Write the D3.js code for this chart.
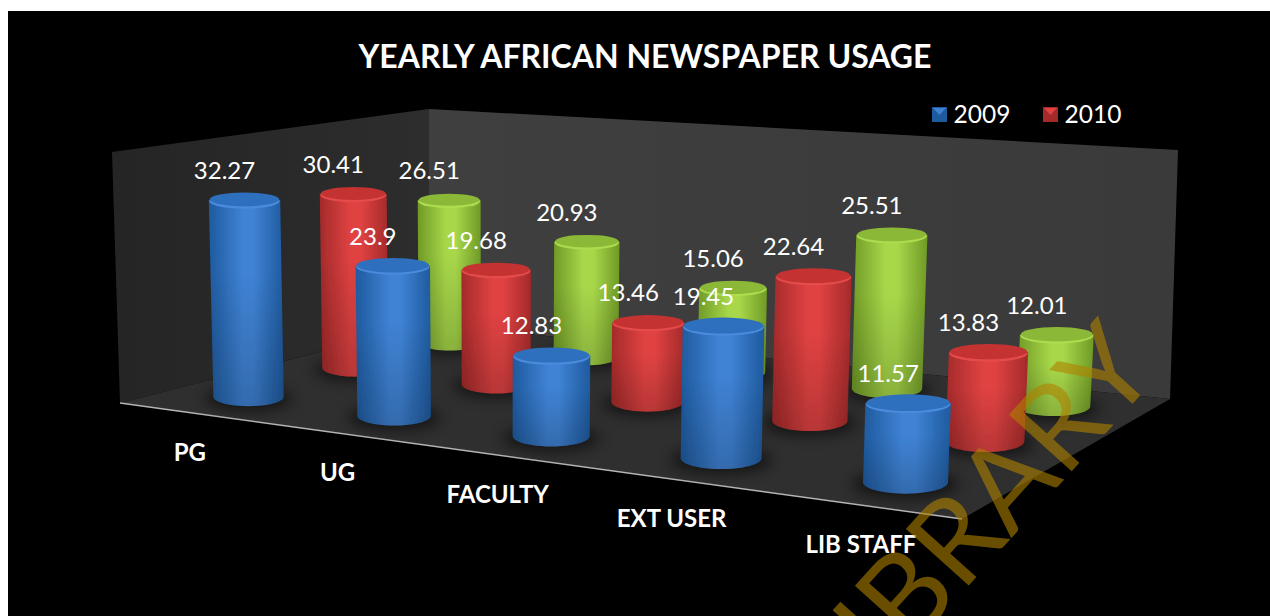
<!DOCTYPE html>
<html>
<head>
<meta charset="utf-8">
<script src="https://cdn.jsdelivr.net/npm/d3@7"></script>
<style>
  html, body { margin: 0; padding: 0; background: #fff; }
  svg { display: block; }
</style>
</head>
<body>
<svg id="chart"></svg>
<script>
const categories = ["PG", "UG", "FACULTY", "EXT USER", "LIB STAFF"];
const seriesKeys = ["2009", "2010", "third"];
const legendLabels = ["2009", "2010"];
const values2009 = [32.27, 23.9, 12.83, 19.45, 11.57];
const values2010 = [30.41, 19.68, 13.46, 22.64, 13.83];
const valuesThird = [26.51, 20.93, 15.06, 25.51, 12.01];
const axisMin = 1, axisMax = 40;

const width = 1270, height = 616;
const seriesValues = [values2009, values2010, valuesThird];

const colors = {
  "2009": {edge: "#1e5a9e", mid: "#3f82d4", top: "#2f70bd", rim: "#4a8bdc"},
  "2010": {edge: "#a42a2a", mid: "#e04242", top: "#c43232", rim: "#e54c4c"},
  "third": {edge: "#6f9a26", mid: "#a8d84a", top: "#8cb838", rim: "#aedc50"}
};

// floor corners and wall tops
const floorA = [120, 403], floorB = [962, 519], floorC = [1170, 399], floorD = [429, 324];
const topA = [112, 152], topC = [1178, 150], topD = [429, 109];

// unit square -> floor homography, plus a column for height
const camera = (() => {
  const [x0, y0] = floorA, [x1, y1] = floorB, [x2, y2] = floorC, [x3, y3] = floorD;
  const sx = x0 - x1 + x2 - x3, sy = y0 - y1 + y2 - y3;
  const dx1 = x1 - x2, dx2 = x3 - x2, dy1 = y1 - y2, dy2 = y3 - y2;
  const det = dx1 * dy2 - dx2 * dy1;
  const g = (sx * dy2 - dx2 * sy) / det;
  const h = (dx1 * sy - sx * dy1) / det;
  return {
    a: x1 - x0 + g * x1, b: x3 - x0 + h * x3, c: x0,
    d: y1 - y0 + g * y1, e: y3 - y0 + h * y3, f: y0,
    g, h,
    hx: -10, hy: -252, hw: -0.02
  };
})();

function project(u, v, t) {
  const c = camera;
  const w = c.g * u + c.h * v + c.hw * t + 1;
  return {
    x: (c.a * u + c.b * v + c.hx * t + c.c) / w,
    y: (c.d * u + c.e * v + c.hy * t + c.f) / w,
    w
  };
}

const u = d3.scaleBand().domain(categories).range([0, 1]);
const v = d3.scaleBand().domain(seriesKeys).range([0, 1]);
const t = d3.scaleLinear().domain([axisMin, axisMax]).range([0, 1]);

// the original is a little less foreshortened along the front edge than the frame says
const catPos = cat => {
  const p = u(cat) + u.bandwidth() / 2;
  return p + 0.04 * p * (1 - p);
};

const radius = 35.5;
const topRatio = 0.21, baseRatio = 0.27;

const bars = [];
seriesKeys.forEach((key, si) => {
  categories.forEach((cat, ci) => {
    const value = seriesValues[si][ci];
    const cu = catPos(cat), cv = v(key) + v.bandwidth() / 2;
    const base = project(cu, cv, 0), top = project(cu, cv, t(value));
    bars.push({
      key, cat, value, base, top,
      rxB: radius / base.w, ryB: radius / base.w * baseRatio,
      rxT: radius / top.w, ryT: radius / top.w * topRatio
    });
  });
});
bars.sort((p, q) => p.base.y - q.base.y);

const svg = d3.select("#chart").attr("width", width).attr("height", height);
const defs = svg.append("defs");

seriesKeys.forEach(key => {
  const col = colors[key];
  const grad = defs.append("linearGradient").attr("id", "body" + key);
  [[0, col.edge], [0.45, col.mid], [0.6, col.mid], [1, col.edge]].forEach(s =>
    grad.append("stop").attr("offset", s[0]).attr("stop-color", s[1]));
});
const fade = defs.append("linearGradient").attr("id", "fade").attr("x1", 0).attr("x2", 0).attr("y1", 0).attr("y2", 1);
fade.append("stop").attr("offset", 0.35).attr("stop-color", "#000").attr("stop-opacity", 0);
fade.append("stop").attr("offset", 1).attr("stop-color", "#000").attr("stop-opacity", 0.18);

const wallGrad = defs.append("linearGradient").attr("id", "backWall");
wallGrad.append("stop").attr("offset", 0).attr("stop-color", "#3f3f3f");
wallGrad.append("stop").attr("offset", 1).attr("stop-color", "#3a3a3a");
const leftGrad = defs.append("linearGradient").attr("id", "leftWall");
leftGrad.append("stop").attr("offset", 0).attr("stop-color", "#252525");
leftGrad.append("stop").attr("offset", 1).attr("stop-color", "#2d2d2d");

defs.append("filter").attr("id", "soft").append("feGaussianBlur").attr("stdDeviation", 0.6);
defs.append("filter").attr("id", "shadow")
  .attr("x", "-50%").attr("y", "-100%").attr("width", "200%").attr("height", "300%")
  .append("feGaussianBlur").attr("stdDeviation", 7);

// page background
svg.append("rect").attr("x", 8).attr("y", 11).attr("width", width - 8).attr("height", height - 11).attr("fill", "#000");

// walls and floor
const poly = pts => pts.map(p => p.join(",")).join(" ");
svg.append("polygon").attr("points", poly([floorA, topA, topD, floorD])).attr("fill", "url(#leftWall)");
svg.append("polygon").attr("points", poly([floorD, topD, topC, floorC])).attr("fill", "url(#backWall)");
svg.append("polygon").attr("points", poly([floorA, floorD, floorC, floorB])).attr("fill", "#2f2f2f");
svg.append("line")
  .attr("x1", floorA[0]).attr("y1", floorA[1]).attr("x2", floorB[0]).attr("y2", floorB[1])
  .attr("stroke", "#b4b4b4").attr("stroke-width", 1.5);

// floor shadows first
svg.append("g").selectAll("ellipse").data(bars).join("ellipse")
  .attr("cx", d => d.base.x).attr("cy", d => d.base.y + 2)
  .attr("rx", d => d.rxB * 1.25).attr("ry", d => d.ryB * 1.25)
  .attr("fill", "#000").attr("opacity", 0.55).attr("filter", "url(#shadow)");

const bodyPath = d => {
  const p = d3.path();
  p.moveTo(d.top.x - d.rxT, d.top.y);
  p.lineTo(d.base.x - d.rxB, d.base.y);
  // front half of base
  const steps = 24;
  d3.range(1, steps + 1).forEach(i => {
    const a = Math.PI - Math.PI * i / steps;
    p.lineTo(d.base.x + d.rxB * Math.cos(a), d.base.y + d.ryB * Math.sin(a));
  });
  p.lineTo(d.top.x + d.rxT, d.top.y);
  p.closePath();
  return p.toString();
};

const cyl = svg.append("g").attr("filter", "url(#soft)")
  .selectAll("g").data(bars).join("g");
cyl.append("path").attr("d", bodyPath).attr("fill", d => `url(#body${d.key})`);
cyl.append("path").attr("d", bodyPath).attr("fill", "url(#fade)");
cyl.append("ellipse")
  .attr("cx", d => d.top.x).attr("cy", d => d.top.y + 1.2)
  .attr("rx", d => d.rxT - 0.5).attr("ry", d => d.ryT)
  .attr("fill", d => colors[d.key].rim);
cyl.append("ellipse")
  .attr("cx", d => d.top.x).attr("cy", d => d.top.y - 0.4)
  .attr("rx", d => d.rxT - 1).attr("ry", d => d.ryT - 0.6)
  .attr("fill", d => colors[d.key].top);

// data labels
svg.append("g").selectAll("text").data(bars).join("text")
  .attr("x", d => d.top.x - 20).attr("y", d => d.top.y - 21)
  .attr("text-anchor", "middle")
  .attr("font-family", "Lato, sans-serif").attr("font-size", 24)
  .attr("fill", "#fff")
  .text(d => d.value);

// category labels under the front edge
svg.append("g").selectAll("text").data(categories).join("text")
  .attr("x", d => project(catPos(d), 0, 0).x)
  .attr("y", d => project(catPos(d), 0, 0).y + 48)
  .attr("text-anchor", "middle")
  .attr("font-family", "Lato, sans-serif").attr("font-size", 24).attr("font-weight", 700)
  .attr("fill", "#fff")
  .text(d => d);

// title
svg.append("text").attr("x", 645).attr("y", 68).attr("text-anchor", "middle")
  .attr("font-family", "Lato, sans-serif").attr("font-size", 32).attr("font-weight", 700)
  .attr("fill", "#fff").text("YEARLY AFRICAN NEWSPAPER USAGE");

// legend
const legendX = d3.scalePoint().domain(legendLabels).range([932, 1043]);
const leg = svg.append("g").selectAll("g").data(legendLabels).join("g")
  .attr("transform", d => `translate(${legendX(d)},107)`);
leg.append("rect").attr("width", 15).attr("height", 15).attr("fill", d => colors[d].edge);
leg.append("polygon").attr("points", "1,1 14,1 7.5,8").attr("fill", d => colors[d].mid);
leg.append("text").attr("x", 21.5).attr("y", 16)
  .attr("font-family", "Lato, sans-serif").attr("font-size", 24.5).attr("fill", "#fff")
  .text(d => d);

// watermark
svg.append("text")
  .attr("transform", "translate(1161,372) rotate(-48)")
  .attr("text-anchor", "end")
  .attr("font-family", "Lato, sans-serif").attr("font-size", 118)
  .attr("fill", "#af8200").attr("opacity", 0.6)
  .text("LIBRARY");
</script>
</body>
</html>
